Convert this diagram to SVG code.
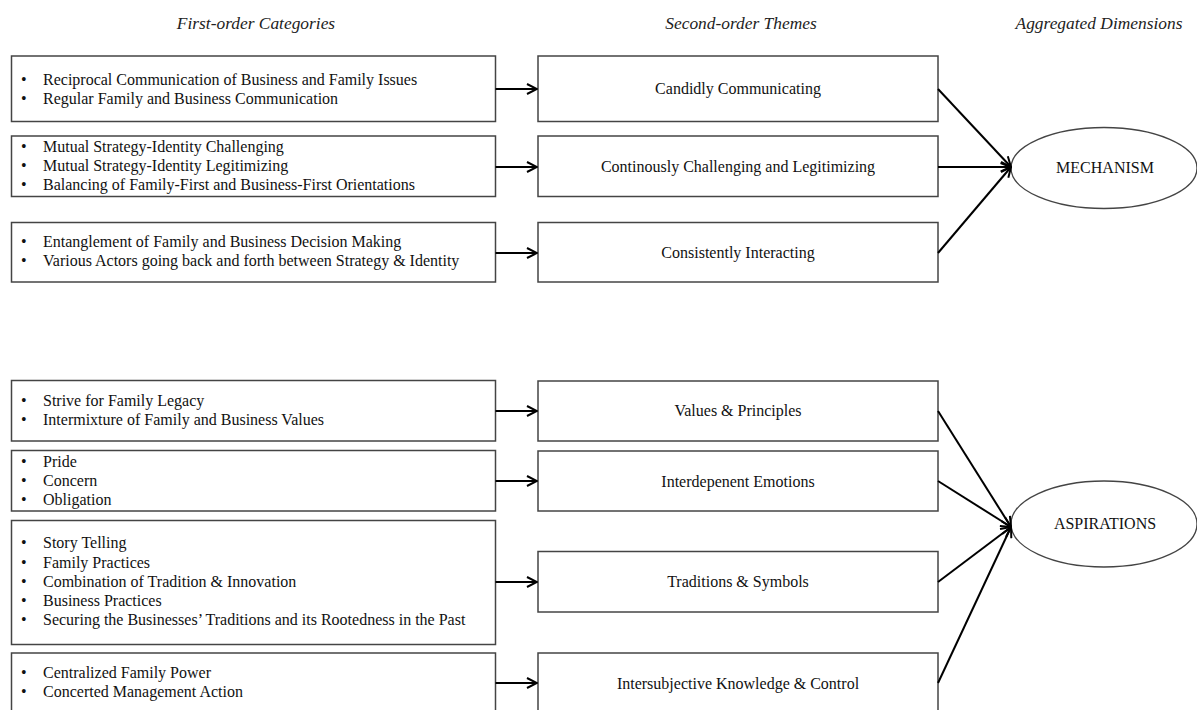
<svg xmlns="http://www.w3.org/2000/svg" width="1197" height="710" viewBox="0 0 1197 710">
<style>
.box{fill:#fff;stroke:#444;stroke-width:1.5}
.t{font-family:"Liberation Serif","Times New Roman",serif;font-size:16px;fill:#111}
.h{font-family:"Liberation Serif","Times New Roman",serif;font-size:17.4px;font-style:italic;fill:#222}
.c{text-anchor:middle}
.ln{stroke:#000;stroke-width:2;fill:none}
</style>
<defs>
<marker id="ah" viewBox="0 0 12 12" refX="11" refY="6" markerWidth="12" markerHeight="12" markerUnits="userSpaceOnUse" orient="auto">
<path d="M1,1 L11,6 L1,11" fill="none" stroke="#000" stroke-width="2"/>
</marker>
</defs>
<rect width="1197" height="710" fill="#fff"/>
<g id="headers">
<text class="h c" x="256" y="29">First-order Categories</text>
<text class="h c" x="741" y="29">Second-order Themes</text>
<text class="h c" x="1099" y="29">Aggregated Dimensions</text>
</g>
<g id="f1"><rect class="box" x="11.5" y="56" width="484" height="65.5"/>
<text class="t" x="21" y="85">•</text><text class="t" x="43" y="85">Reciprocal Communication of Business and Family Issues</text>
<text class="t" x="21" y="104">•</text><text class="t" x="43" y="104">Regular Family and Business Communication</text></g>
<g id="f2"><rect class="box" x="11.5" y="136" width="484" height="60.5"/>
<text class="t" x="21" y="152">•</text><text class="t" x="43" y="152">Mutual Strategy-Identity Challenging</text>
<text class="t" x="21" y="171">•</text><text class="t" x="43" y="171">Mutual Strategy-Identity Legitimizing</text>
<text class="t" x="21" y="190">•</text><text class="t" x="43" y="190">Balancing of Family-First and Business-First Orientations</text></g>
<g id="f3"><rect class="box" x="11.5" y="222.5" width="484" height="59.5"/>
<text class="t" x="21" y="247">•</text><text class="t" x="43" y="247">Entanglement of Family and Business Decision Making</text>
<text class="t" x="21" y="266">•</text><text class="t" x="43" y="266">Various Actors going back and forth between Strategy &amp; Identity</text></g>
<g id="f4"><rect class="box" x="11.5" y="380.5" width="484" height="60.5"/>
<text class="t" x="21" y="406">•</text><text class="t" x="43" y="406">Strive for Family Legacy</text>
<text class="t" x="21" y="425">•</text><text class="t" x="43" y="425">Intermixture of Family and Business Values</text></g>
<g id="f5"><rect class="box" x="11.5" y="450.5" width="484" height="60.5"/>
<text class="t" x="21" y="467">•</text><text class="t" x="43" y="467">Pride</text>
<text class="t" x="21" y="486">•</text><text class="t" x="43" y="486">Concern</text>
<text class="t" x="21" y="505">•</text><text class="t" x="43" y="505">Obligation</text></g>
<g id="f6"><rect class="box" x="11.5" y="520.5" width="484" height="124"/>
<text class="t" x="21" y="548">•</text><text class="t" x="43" y="548">Story Telling</text>
<text class="t" x="21" y="568">•</text><text class="t" x="43" y="568">Family Practices</text>
<text class="t" x="21" y="587">•</text><text class="t" x="43" y="587">Combination of Tradition &amp; Innovation</text>
<text class="t" x="21" y="606">•</text><text class="t" x="43" y="606">Business Practices</text>
<text class="t" x="21" y="625">•</text><text class="t" x="43" y="625">Securing the Businesses’ Traditions and its Rootedness in the Past</text></g>
<g id="f7"><rect class="box" x="11.5" y="653" width="484" height="70"/>
<text class="t" x="21" y="678">•</text><text class="t" x="43" y="678">Centralized Family Power</text>
<text class="t" x="21" y="697">•</text><text class="t" x="43" y="697">Concerted Management Action</text></g>
<g id="s1"><rect class="box" x="538" y="56" width="400" height="65.5"/><text class="t c" x="738" y="94">Candidly Communicating</text></g>
<g id="s2"><rect class="box" x="538" y="136" width="400" height="60.5"/><text class="t c" x="738" y="172">Continously Challenging and Legitimizing</text></g>
<g id="s3"><rect class="box" x="538" y="222.5" width="400" height="59.5"/><text class="t c" x="738" y="258">Consistently Interacting</text></g>
<g id="s4"><rect class="box" x="538" y="381" width="400" height="60"/><text class="t c" x="738" y="416">Values &amp; Principles</text></g>
<g id="s5"><rect class="box" x="538" y="451" width="400" height="60"/><text class="t c" x="738" y="487">Interdepenent Emotions</text></g>
<g id="s6"><rect class="box" x="538" y="551.5" width="400" height="60.5"/><text class="t c" x="738" y="587">Traditions &amp; Symbols</text></g>
<g id="s7"><rect class="box" x="538" y="653" width="400" height="70"/><text class="t c" x="738" y="689">Intersubjective Knowledge &amp; Control</text></g>
<g id="d1"><ellipse cx="1104" cy="168" rx="93" ry="40.5" fill="#fff" stroke="#444" stroke-width="1.3"/><text class="t c" x="1105" y="173">MECHANISM</text></g>
<g id="d2"><ellipse cx="1104" cy="524" rx="93" ry="43" fill="#fff" stroke="#444" stroke-width="1.3"/><text class="t c" x="1105" y="529">ASPIRATIONS</text></g>
<g id="connectors">
<line class="ln" x1="495.5" y1="89" x2="537" y2="89" marker-end="url(#ah)"/>
<line class="ln" x1="495.5" y1="167" x2="537" y2="167" marker-end="url(#ah)"/>
<line class="ln" x1="495.5" y1="253" x2="537" y2="253" marker-end="url(#ah)"/>
<line class="ln" x1="495.5" y1="411" x2="537" y2="411" marker-end="url(#ah)"/>
<line class="ln" x1="495.5" y1="481" x2="537" y2="481" marker-end="url(#ah)"/>
<line class="ln" x1="495.5" y1="582" x2="537" y2="582" marker-end="url(#ah)"/>
<line class="ln" x1="495.5" y1="683" x2="537" y2="683" marker-end="url(#ah)"/>
<line class="ln" x1="938" y1="89" x2="1011" y2="167" marker-end="url(#ah)"/>
<line class="ln" x1="938" y1="167" x2="1011" y2="167" marker-end="url(#ah)"/>
<line class="ln" x1="938" y1="253" x2="1011" y2="167" marker-end="url(#ah)"/>
<line class="ln" x1="938" y1="411" x2="1011" y2="527" marker-end="url(#ah)"/>
<line class="ln" x1="938" y1="481" x2="1011" y2="527" marker-end="url(#ah)"/>
<line class="ln" x1="938" y1="582" x2="1011" y2="527" marker-end="url(#ah)"/>
<line class="ln" x1="938" y1="683" x2="1011" y2="527" marker-end="url(#ah)"/>
</g>
</svg>
